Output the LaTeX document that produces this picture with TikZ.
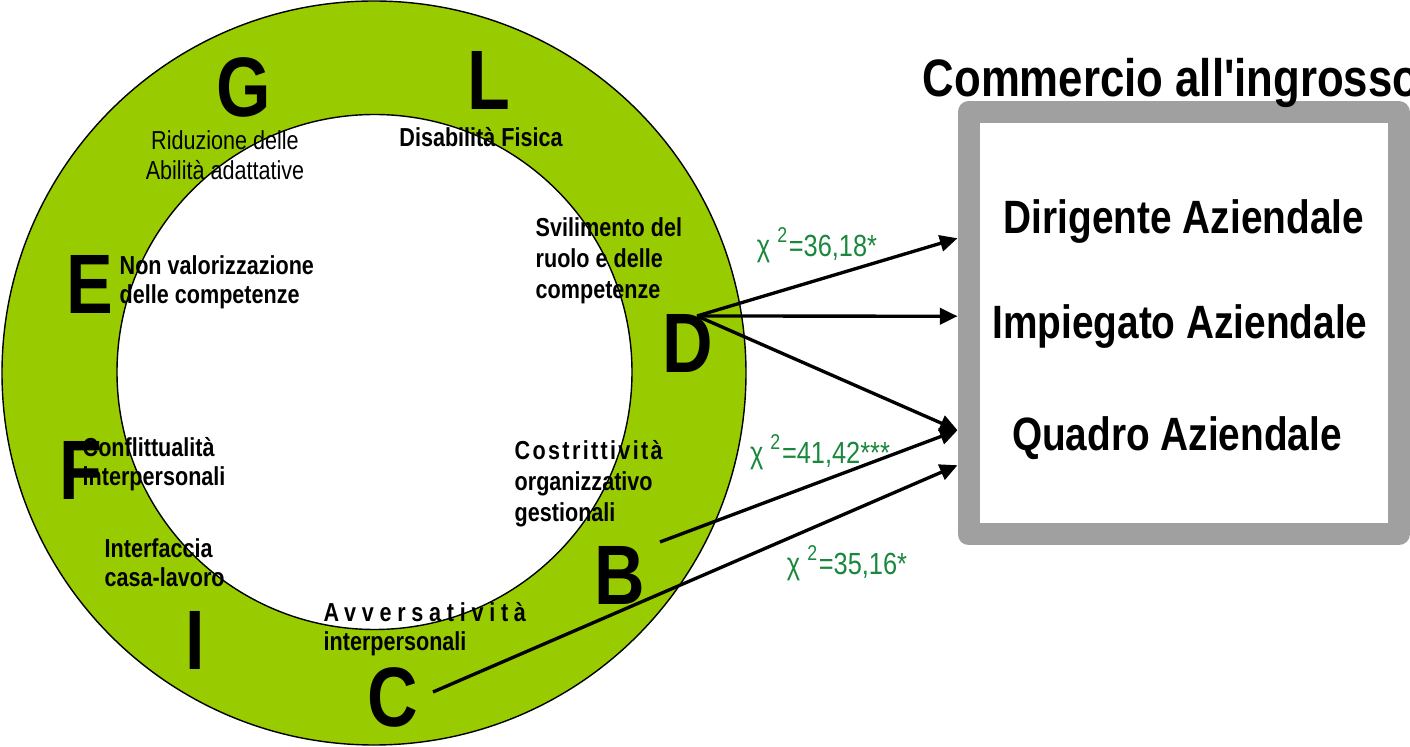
\documentclass[tikz,border=0pt]{standalone}
\usepackage{fontspec}
\usepackage{tikz}
\usetikzlibrary{arrows.meta,positioning,calc}
\newfontfamily\narrowfont[FakeStretch=0.83]{Liberation Sans}
\definecolor{ringgreen}{RGB}{153,204,0}
\definecolor{chigreen}{RGB}{25,135,60}
\definecolor{framegray}{RGB}{160,160,160}

\begin{document}
\begin{tikzpicture}[
  letter/.style={inner sep=0pt, font=\narrowfont\bfseries\fontsize{24}{24}\selectfont},
  area/.style={inner sep=0pt, anchor=west, align=left, font=\narrowfont\bfseries\fontsize{7.4}{8.4}\selectfont},
  chi/.style={inner sep=0pt, text=chigreen, font=\narrowfont\fontsize{8.7}{10}\selectfont},
  role/.style={inner sep=0pt, font=\narrowfont\bfseries\fontsize{13.3}{15}\selectfont},
  link/.style={line width=0.95pt, -{Triangle[length=5pt,width=4.6pt]}}
]
\useasboundingbox (0,0) rectangle (14.1,7.47);
% ring
\fill[ringgreen, even odd rule] (3.74,3.74) circle (3.72) (3.745,3.75) circle (2.575);
\draw[line width=0.4pt] (3.74,3.74) circle (3.72);
\draw[line width=0.4pt] (3.745,3.75) circle (2.575);

% factor letters
\node[letter] (lG) at (2.44,6.60) {G};
\node[letter] (lL) at (4.89,6.67) {L};
\node[letter] (lE) at (0.90,4.63) {E};
\node[letter] (lD) at (6.88,4.04) {D};
\node[letter] (lF) at (0.81,2.77) {F};
\node[letter] (lB) at (6.20,1.72) {B};
\node[letter] (lI) at (1.95,1.07) {I};
\node[letter] (lC) at (3.93,0.50) {C};

% factor descriptions
\node[area, anchor=center, align=center, font=\narrowfont\fontsize{7.4}{8.4}\selectfont] (aG) at (2.25,5.92) {Riduzione delle\\Abilità adattative};
\node[area, anchor=center] (aL) at (4.81,6.10) {Disabilità Fisica};
\node[area, font=\narrowfont\bfseries\fontsize{7.4}{8.8}\selectfont] (aD) at (5.35,4.86) {Svilimento del\\ruolo e delle\\competenze};
\node[area] (aE) at (1.19,4.645) {Non valorizzazione\\delle competenze};
\node[area] (aF) at (0.82,2.83) {Conflittualità\\interpersonali};
\node[area] (aI) at (1.04,1.845) {Interfaccia\\casa-lavoro};
\node[area, font=\narrowfont\bfseries\fontsize{7.4}{8.8}\selectfont] (aB) at (5.14,2.63) {{\addfontfeature{LetterSpace=9}Costrittività}\\organizzativo\\gestionali};
\node[area] (aC) at (3.23,1.18) {{\addfontfeature{LetterSpace=22}Avversatività}\\interpersonali};

% sector box
\node[draw=framegray, line width=0.22cm, line join=round, fill=white, minimum width=4.30cm, minimum height=4.225cm, inner sep=0pt] (frame) at (11.835,4.2375) {};
\node[anchor=base west, inner sep=0pt, font=\narrowfont\bfseries\fontsize{15}{17}\selectfont] (title) at (9.22,6.50) {Commercio all'ingrosso};
\node[role] (rDir) at (11.84,5.25) {Dirigente Aziendale};
\node[role] (rImp) at (11.80,4.20) {Impiegato Aziendale};
\node[role] (rQua) at (11.77,3.09) {Quadro Aziendale};

% links
\coordinate (dOut) at (6.97,4.31);
\coordinate (bOut) at (6.60,2.05);
\coordinate (cOut) at (4.33,0.55);
\draw[link] (dOut) -- ([yshift=8.5mm]frame.west);
\draw[link] (dOut) -- ([yshift=0.7mm]frame.west);
\draw[link] (dOut) -- ([yshift=-10.7mm]frame.west);
\draw[link] (bOut) -- ([yshift=-10.7mm]frame.west);
\draw[link] (cOut) -- ([yshift=-14.2mm]frame.west);

\node[chi] (xDir) at (8.17,5.02) {χ \textsuperscript{2}=36,18*};
\node[chi] (xQua) at (8.20,2.95) {χ \textsuperscript{2}=41,42***};
\node[chi] (xImp) at (8.47,1.84) {χ \textsuperscript{2}=35,16*};
\end{tikzpicture}
\end{document}
